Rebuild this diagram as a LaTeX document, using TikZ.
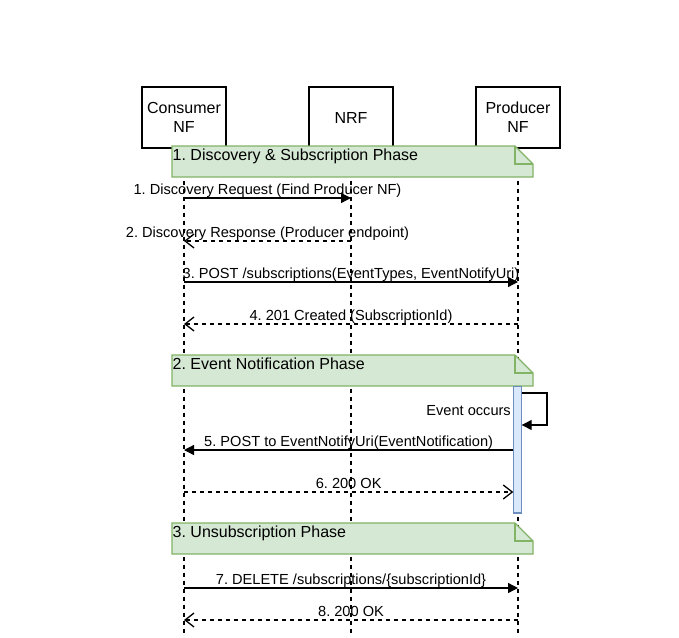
\documentclass[tikz,border=0pt]{standalone}
\usepackage{fontspec}
\setmainfont{Liberation Sans}
\usetikzlibrary{arrows.meta}
\definecolor{notefill}{HTML}{D5E8D4}
\definecolor{notedraw}{HTML}{82B366}
\definecolor{actfill}{HTML}{DAE8FC}
\definecolor{actdraw}{HTML}{6C8EBF}
\newcommand\PhaseNote[3]{%
  \draw[notebox] (172,#1) -- (515,#1) -- (533,#1+18) -- (533,#1+31) -- (172,#1+31) -- cycle;
  \draw[notebox, fill=none] (515,#1) -- (515,#1+18) -- (533,#1+18);
  \node[phasetext] (#3) at (172.5,#1+14) {#2};}
\begin{document}
\frenchspacing
\begin{tikzpicture}[x=1pt,y=-1pt,
  participant/.style={draw, line width=1.3pt, minimum width=84pt, minimum height=61pt,
    align=center, inner sep=0pt, font=\fontsize{16}{19.2}\selectfont},
  lifeline/.style={line width=1.2pt, dash pattern=on 4pt off 4pt},
  notebox/.style={draw=notedraw, fill=notefill, line width=1.3pt, line join=miter},
  phasetext/.style={anchor=base west, inner sep=0pt, font=\fontsize{16}{19.2}\selectfont},
  msg/.style={line width=1.3pt, -{Triangle[length=10pt,width=10pt]}},
  ret/.style={line width=1.3pt, dash pattern=on 4pt off 4pt, -{Straight Barb[length=9pt,width=14pt]}},
  lbl/.style={midway, anchor=base, yshift=4pt, inner sep=0pt, font=\fontsize{14.6}{17.5}\selectfont},
  actbar/.style={draw=actdraw, fill=actfill, line width=1.3pt, minimum width=8.4pt, minimum height=126.7pt, inner sep=0pt}
]
\useasboundingbox[fill=white] (0,0) rectangle (679,637);
% participants
\node[participant] (cons) at (184,117.5) {Consumer\\NF};
\node[participant] (nrf) at (351,117.5) {NRF};
\node[participant] (prod) at (518,117.5) {Producer\\NF};
\coordinate (consEnd) at (184,634);
\coordinate (nrfEnd) at (351,634);
\coordinate (prodEnd) at (518,634);
\draw[lifeline] (cons.south) -- (consEnd);
\draw[lifeline] (nrf.south) -- (nrfEnd);
\draw[lifeline] (prod.south) -- (prodEnd);
% phase 1
\PhaseNote{146}{1. Discovery \& Subscription Phase}{ph1}
\coordinate (m1a) at (184,198); \coordinate (m1b) at (351,198);
\draw[msg] (m1a) -- (m1b) node[lbl] {1. Discovery Request (Find Producer NF)};
\coordinate (m2a) at (351,241); \coordinate (m2b) at (184,241);
\draw[ret] (m2a) -- (m2b) node[lbl] {2. Discovery Response (Producer endpoint)};
\coordinate (m3a) at (184,282); \coordinate (m3b) at (518,282);
\draw[msg] (m3a) -- (m3b) node[lbl] {3. POST /subscriptions(EventTypes, EventNotifyUri)};
\coordinate (m4a) at (518,324); \coordinate (m4b) at (184,324);
\draw[ret] (m4a) -- (m4b) node[lbl] {4. 201 Created (SubscriptionId)};
% phase 2
\PhaseNote{355}{2. Event Notification Phase}{ph2}
\node[actbar] (act) at (517.5,449.5) {};
\coordinate (s1) at (521.7,393); \coordinate (s2) at (547,393);
\coordinate (s3) at (547,425); \coordinate (s4) at (521.7,425);
\draw[msg] (s1) -- (s2) -- (s3) -- (s4);
\node[anchor=base east, inner sep=0pt, font=\fontsize{14.6}{17.5}\selectfont] (ev) at (511,415) {Event occurs};
\coordinate (m5a) at (513.3,450); \coordinate (m5b) at (184,450);
\draw[msg] (m5a) -- (m5b) node[lbl] {5. POST to EventNotifyUri(EventNotification)};
\coordinate (m6a) at (184,492); \coordinate (m6b) at (513.3,492);
\draw[ret] (m6a) -- (m6b) node[lbl] {6. 200 OK};
% phase 3
\PhaseNote{523}{3. Unsubscription Phase}{ph3}
\coordinate (m7a) at (184,588); \coordinate (m7b) at (518,588);
\draw[msg] (m7a) -- (m7b) node[lbl] {7. DELETE /subscriptions/\{subscriptionId\}};
\coordinate (m8a) at (518,620); \coordinate (m8b) at (184,620);
\draw[ret] (m8a) -- (m8b) node[lbl] {8. 200 OK};
\end{tikzpicture}
\end{document}
